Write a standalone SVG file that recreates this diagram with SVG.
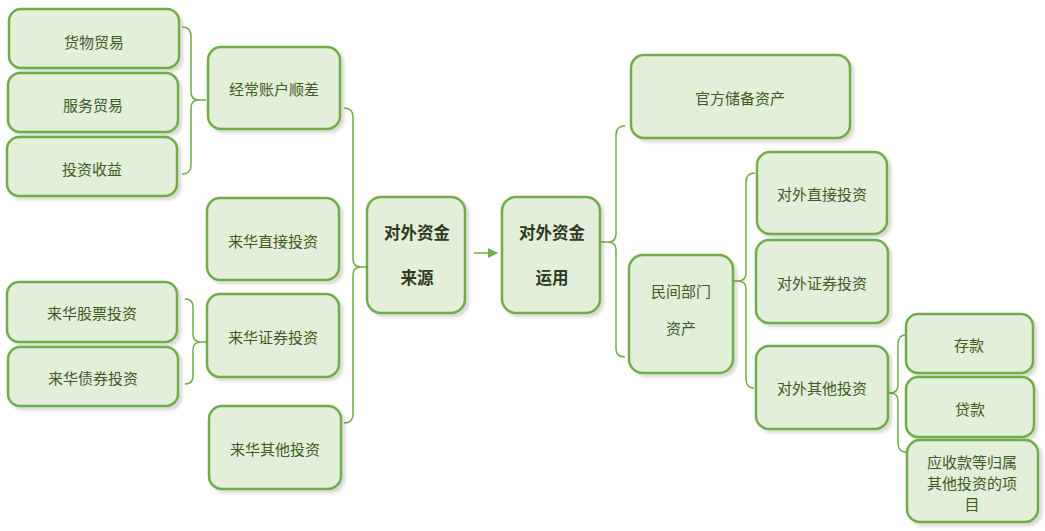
<svg xmlns="http://www.w3.org/2000/svg" width="1045" height="531" viewBox="0 0 1045 531">
<defs>
<filter id="sh" x="-10%" y="-10%" width="130%" height="130%">
<feDropShadow dx="3" dy="3" stdDeviation="1.5" flood-color="#000" flood-opacity="0.15"/>
</filter>
<marker id="arr" markerWidth="10" markerHeight="10" refX="9" refY="5" orient="auto" markerUnits="userSpaceOnUse">
<path d="M0,0 L10,5 L0,10 Z" fill="#70ad47"/>
</marker>
</defs>
<style>
.n rect{fill:#e2efda;stroke:#70ad47;stroke-width:2.5;filter:url(#sh)}
.n text{font-family:"Noto Sans CJK SC","Noto Sans CJK JP",sans-serif;font-size:15px;fill:#3d5c26;text-anchor:middle;dominant-baseline:central}
.n text.b{font-family:"Noto Sans CJK SC",serif;font-weight:bold;font-size:16.5px;fill:#2f3a22}
.c path{fill:none;stroke:#70ad47;stroke-width:1.5}
</style>
<rect width="1045" height="531" fill="#ffffff"/>
<g class="c">
<path d="M182,27 Q191,27 191,36 L191,92 Q191,100 199,100 L206,100 M199,100 Q191,100 191,108 L191,165 Q191,174 182,174"/>
<path d="M185,299 Q193,299 193,307 L193,334 Q193,342 201,342 L206,342 M201,342 Q193,342 193,350 L193,376 Q193,384 185,384"/>
<path d="M344,108 Q353,108 353,117 L353,259 Q353,267 361,267 L367,267 M361,267 Q353,267 353,275 L353,414 Q353,423 344,423"/>
<path d="M474,253 L497,253" marker-end="url(#arr)"/>
<path d="M601,242 L608,242 Q616,242 616,234 L616,135 Q616,126 625,126 M608,242 Q616,242 616,250 L616,349 Q616,357 625,357"/>
<path d="M734,281 L738,281 Q746,281 746,273 L746,182 Q746,173 755,173 M738,281 Q746,281 746,289 L746,379 Q746,388 754,388"/>
<path d="M889,393 L890,393 Q898,393 898,385 L898,344 Q898,335 906,335 M890,393 Q898,393 898,401 L898,443 Q898,452 906,452"/>
</g>
<g id="n-huowu" class="n"><rect x="9" y="9" width="170" height="59" rx="12"/><text x="94" y="41">货物贸易</text></g>
<g id="n-fuwu" class="n"><rect x="8" y="73" width="170" height="59" rx="12"/><text x="93" y="104">服务贸易</text></g>
<g id="n-touzishouyi" class="n"><rect x="7" y="137" width="170" height="59" rx="12"/><text x="92" y="168">投资收益</text></g>
<g id="n-jingchang" class="n"><rect x="208" y="47" width="132" height="82" rx="13"/><text x="274" y="88">经常账户顺差</text></g>
<g id="n-zhijie" class="n"><rect x="207" y="198" width="132" height="82" rx="13"/><text x="273" y="240">来华直接投资</text></g>
<g id="n-gupiao" class="n"><rect x="7" y="282" width="170" height="60" rx="12"/><text x="92" y="312">来华股票投资</text></g>
<g id="n-zhaiquan" class="n"><rect x="8" y="347" width="170" height="59" rx="12"/><text x="93" y="377">来华债券投资</text></g>
<g id="n-zhengquan" class="n"><rect x="207" y="294" width="132" height="83" rx="13"/><text x="273" y="336">来华证券投资</text></g>
<g id="n-qita" class="n"><rect x="209" y="406" width="132" height="83" rx="13"/><text x="275" y="448">来华其他投资</text></g>
<g id="n-laiyuan" class="n"><rect x="367" y="197" width="98" height="116" rx="14"/><text class="b" x="417" y="232">对外资金</text><text class="b" x="417" y="277">来源</text></g>
<g id="n-yunyong" class="n"><rect x="502" y="197" width="98" height="116" rx="14"/><text class="b" x="552" y="232">对外资金</text><text class="b" x="552" y="277">运用</text></g>
<g id="n-guanfang" class="n"><rect x="631" y="55" width="219" height="83" rx="13"/><text x="740" y="97">官方储备资产</text></g>
<g id="n-minjian" class="n"><rect x="629" y="255" width="104" height="118" rx="14"/><text x="681" y="290">民间部门</text><text x="681" y="327">资产</text></g>
<g id="n-dwzhijie" class="n"><rect x="757" y="152" width="130" height="82" rx="13"/><text x="822" y="193">对外直接投资</text></g>
<g id="n-dwzhengquan" class="n"><rect x="756" y="240" width="132" height="83" rx="13"/><text x="822" y="282">对外证券投资</text></g>
<g id="n-dwqita" class="n"><rect x="756" y="346" width="132" height="83" rx="13"/><text x="822" y="387">对外其他投资</text></g>
<g id="n-cunkuan" class="n"><rect x="906" y="314" width="127" height="59" rx="12"/><text x="969" y="344">存款</text></g>
<g id="n-daikuan" class="n"><rect x="906" y="377" width="128" height="60" rx="12"/><text x="970" y="408">贷款</text></g>
<g id="n-yingshou" class="n"><rect x="907" y="440" width="131" height="82" rx="13"/><text x="972" y="461">应收款等归属</text><text x="972" y="482">其他投资的项</text><text x="972" y="503">目</text></g>
</svg>
